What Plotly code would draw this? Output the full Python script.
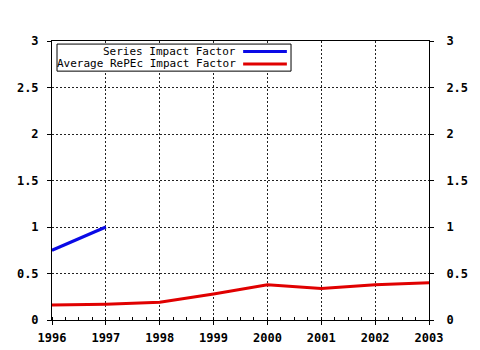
import plotly.graph_objects as go

years = [1996, 1997, 1998, 1999, 2000, 2001, 2002, 2003]
series_years = [1996, 1997]
series_if = [0.75, 1.0]
avg_if = [0.16, 0.17, 0.19, 0.28, 0.38, 0.34, 0.38, 0.40]
y_ticks = [0, 0.5, 1, 1.5, 2, 2.5, 3]
y_labels = ["0", "0.5", "1", "1.5", "2", "2.5", "3"]
legend_names = ["Series Impact Factor", "Average RePEc Impact Factor"]

BLUE = "#0a0ae6"
RED = "#e00000"
FONT = "DejaVu Sans Mono"
TICKFONT = dict(family=FONT, size=12, color="black", weight="bold")

fig = go.Figure()
fig.add_trace(go.Scatter(x=series_years, y=series_if, mode="lines",
                         line=dict(color=BLUE, width=3), name=legend_names[0]))
fig.add_trace(go.Scatter(x=years, y=avg_if, mode="lines",
                         line=dict(color=RED, width=3), name=legend_names[1]))
# invisible trace to activate right axis
fig.add_trace(go.Scatter(x=[years[0]], y=[0], yaxis="y2", mode="markers",
                         marker=dict(opacity=0), showlegend=False, hoverinfo="skip"))

axis_common = dict(showline=True, linecolor="black", linewidth=1,
                   gridcolor="#222222", griddash="2px,2px", gridwidth=1,
                   zeroline=False, ticks="outside", ticklen=4, tickcolor="black",
                   automargin=False, tickfont=TICKFONT)

fig.update_layout(
    width=480, height=350,
    margin=dict(l=52, r=51, t=41, b=30),
    paper_bgcolor="white", plot_bgcolor="white",
    showlegend=False,
    xaxis=dict(range=[years[0], years[-1]], tickvals=years, ticktext=[str(y) for y in years],
               mirror=True, ticklabelstandoff=3,
               minor=dict(dtick=0.25, ticks="inside", ticklen=3, tickcolor="black", showgrid=False),
               **axis_common),
    yaxis=dict(range=[0, 3], tickvals=y_ticks, ticktext=y_labels, ticklabelstandoff=6,
               **axis_common),
    yaxis2=dict(range=[0, 3], tickvals=y_ticks, ticktext=y_labels, overlaying="y", side="right",
                showline=True, linecolor="black", showgrid=False, zeroline=False,
                ticks="outside", ticklen=4, tickcolor="black", automargin=False,
                ticklabelstandoff=10, tickfont=TICKFONT),
)

# legend box (drawn manually so that samples sit to the right of the labels)
fig.add_shape(type="rect", xref="paper", yref="paper", x0=0.0133, x1=0.634, y0=0.892, y1=0.989,
              line=dict(color="black", width=1), fillcolor="white", layer="above")
for name, color, yy in zip(legend_names, [BLUE, RED], [0.962, 0.918]):
    fig.add_annotation(xref="paper", yref="paper", x=0.494, y=yy, xanchor="right", yanchor="middle",
                       text=name, showarrow=False,
                       font=dict(family=FONT, size=11, color="black"))
    fig.add_shape(type="line", xref="paper", yref="paper", x0=0.507, x1=0.623, y0=yy, y1=yy,
                  line=dict(color=color, width=3), layer="above")

fig.write_html("out.html")
